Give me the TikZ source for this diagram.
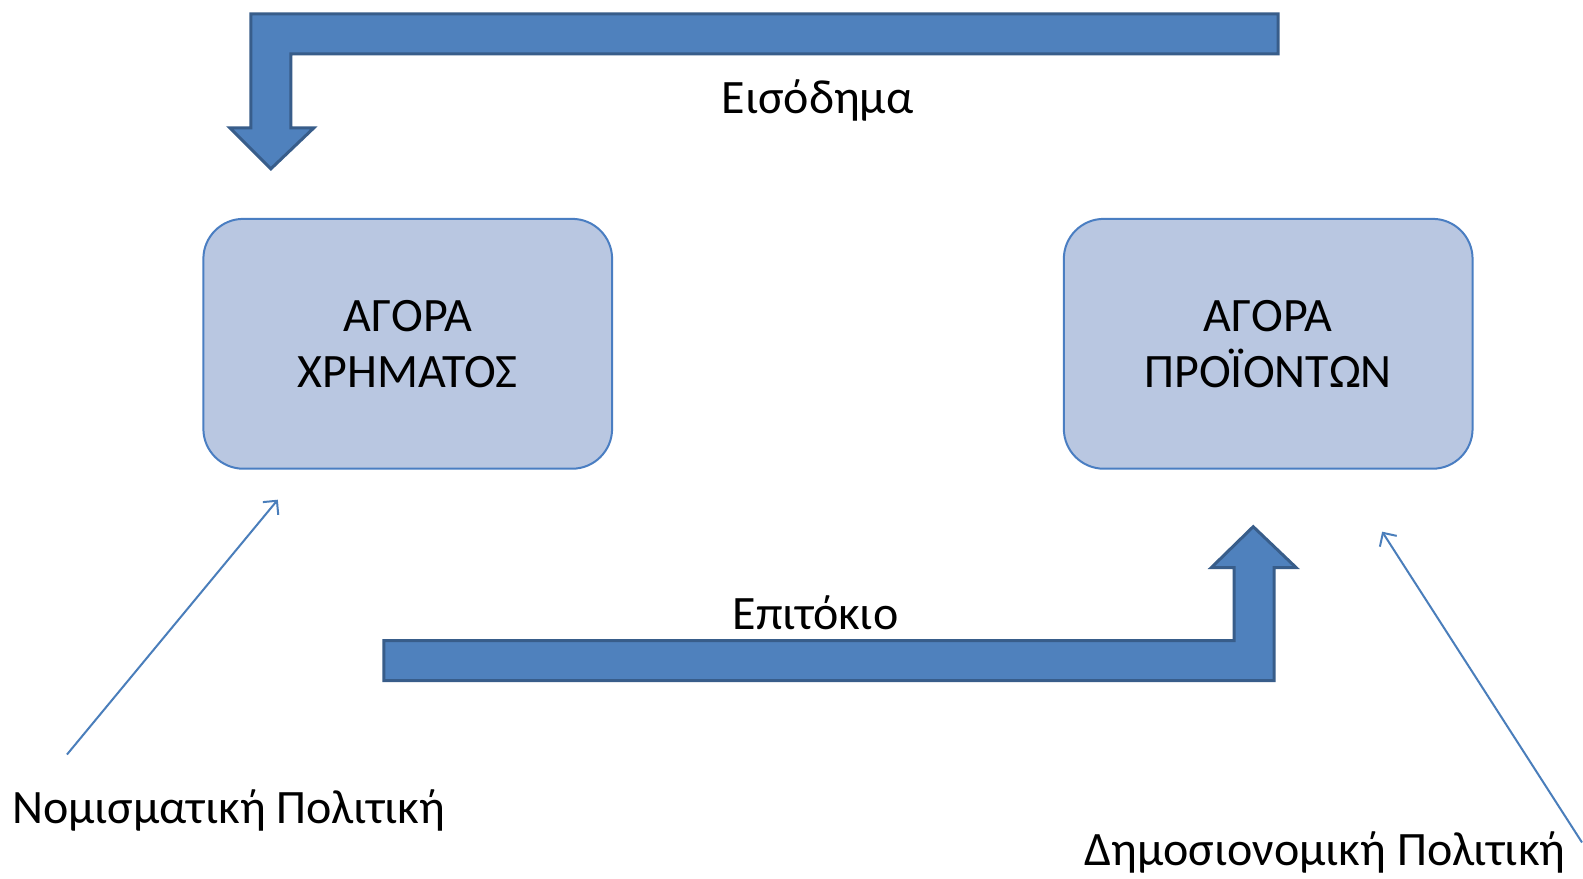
\documentclass[tikz,border=0pt]{standalone}
\usepackage{fontspec}
\setmainfont{Carlito}
\usepackage{tikz}
\usetikzlibrary{arrows.meta,shapes}

\definecolor{boxfill}{HTML}{B9C7E1}
\definecolor{boxline}{HTML}{4A7EC2}
\definecolor{arrfill}{HTML}{4F81BD}
\definecolor{arrline}{HTML}{385D8A}
\definecolor{thinline}{HTML}{4A7EBB}

\begin{document}
\begin{tikzpicture}
	[
		x=1pt, y=-1pt,
		market/.style = {shape=rectangle, rounded corners=40pt, draw=boxline, line width=2pt, fill=boxfill,
			minimum width=409pt, minimum height=250pt, align=center, font=\fontsize{48}{56}\selectfont},
		flow/.style = {font=\fontsize{48}{56}\selectfont},
		policy/.style = {font=\fontsize{48}{56}\selectfont, inner sep=0pt},
		blockarrow/.style = {draw=arrline, line width=3pt, fill=arrfill, line join=miter},
		thin/.style = {draw=thinline, line width=2pt, -{Straight Barb[length=10pt, width=20pt, line width=2pt]}},
	]

  \fill[white] (0,0) rectangle (1583,879);

  % markets
  \node[market] (money) at (408,344) {ΑΓΟΡΑ\\ΧΡΗΜΑΤΟΣ};
  \node[market] (goods) at (1269,344) {ΑΓΟΡΑ\\ΠΡΟΪΟΝΤΩΝ};

  % block arrows
  \draw[blockarrow] (1279,14) -- (251,14) -- (251,128) -- (230,128) -- (271,169)
  	-- (314,128) -- (291,128) -- (291,54) -- (1279,54) -- cycle;
  \draw[blockarrow] (384,641) -- (1235,641) -- (1235,568) -- (1212,568) -- (1254,527)
  	-- (1297,568) -- (1275,568) -- (1275,681) -- (384,681) -- cycle;

  \node[flow] (income) at (818,101) {Εισόδημα};
  \node[flow] (rate) at (816,613) {Επιτόκιο};

  % policies
  \node[policy, anchor=west] (monetary) at (12,811) {Νομισματική Πολιτική};
  \node[policy, anchor=base west] (fiscal) at (1085,866) {Δημοσιονομική Πολιτική};

  \coordinate (monstart) at (67,755);
  \coordinate (monend) at (278,500);
  \coordinate (fisstart) at (1583,843);
  \coordinate (fisend) at (1383,532);

  \path
  (monstart) edge[thin] (monend)
  (fisstart) edge[thin] (fisend);

  \useasboundingbox (0,0) rectangle (1583,879);
\end{tikzpicture}
\end{document}
